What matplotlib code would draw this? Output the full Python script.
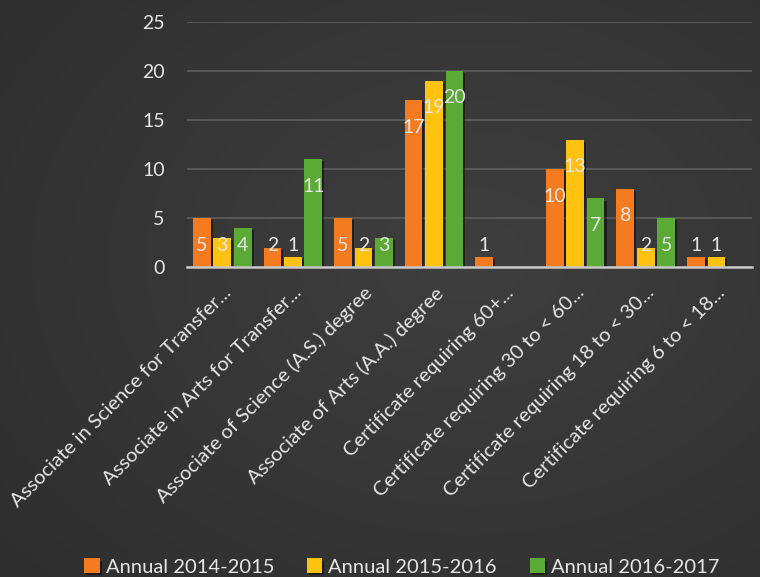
import numpy as np
import matplotlib
matplotlib.use("Agg")
import matplotlib.pyplot as plt
import matplotlib.patheffects as pe

categories = [
    "Associate in Science for Transfer...",
    "Associate in Arts for Transfer...",
    "Associate of Science (A.S.) degree",
    "Associate of Arts (A.A.) degree",
    "Certificate requiring 60+...",
    "Certificate requiring 30 to < 60...",
    "Certificate requiring 18 to < 30...",
    "Certificate requiring 6 to < 18...",
]
series_names = ["Annual 2014-2015", "Annual 2015-2016", "Annual 2016-2017"]
annual_2014 = [5, 2, 5, 17, 1, 10, 8, 1]
annual_2015 = [3, 1, 2, 19, np.nan, 13, 2, 1]
annual_2016 = [4, 11, 3, 20, np.nan, 7, 5, np.nan]
colors = ["#F47B20", "#FFC20E", "#5BAA36"]

plt.rcParams["font.family"] = ["Lato", "DejaVu Sans"]
text_col = "#E6E6E6"

fig = plt.figure(figsize=(7.6, 5.77), dpi=100)

# dark gradient background
bg = fig.add_axes([0, 0, 1, 1], zorder=-10)
yy, xx = np.mgrid[0:1:300j, 0:1:400j]
shade = 0.245 - 0.07 * np.sqrt(((xx - 0.62) / 0.9) ** 2 + ((yy - 0.45) / 0.9) ** 2)
shade = np.clip(shade, 0.13, 0.25)
bg.imshow(np.dstack([shade] * 3), extent=[0, 1, 0, 1], aspect="auto", origin="upper")
bg.axis("off")

ax = fig.add_axes([0.246, 0.537, 0.743, 0.425])
ax.set_facecolor("none")

x = np.arange(len(categories))
w = 0.25
step = 0.29
shadow = [pe.SimplePatchShadow(offset=(1.5, -1.5), shadow_rgbFace="black", alpha=0.45), pe.Normal()]
for i, (vals, name, c) in enumerate(zip([annual_2014, annual_2015, annual_2016], series_names, colors)):
    vals = np.array(vals, dtype=float)
    pos = x + (i - 1) * step
    bars = ax.bar(pos, vals, width=w, color=c, label=name, zorder=3)
    for b in bars:
        b.set_path_effects(shadow)
    for p, v in zip(pos, vals):
        if np.isnan(v):
            continue
        ax.text(p, max(v - 2.75, 2.25), f"{int(v)}", ha="center", va="center",
                color=text_col, fontsize=14, zorder=4)

ax.set_ylim(0, 25)
ax.set_xlim(-0.5, len(categories) - 0.5)
ax.set_yticks([0, 5, 10, 15, 20, 25])
ax.grid(axis="y", color="#5E5E5E", linewidth=1.2, zorder=0)
ax.set_axisbelow(True)
for s in ["top", "right", "left"]:
    ax.spines[s].set_visible(False)
ax.spines["bottom"].set_color("#C8C8C8")
ax.spines["bottom"].set_linewidth(1.8)
ax.spines["bottom"].set_zorder(5)

ax.tick_params(axis="y", length=0, pad=16, labelsize=14, labelcolor=text_col)
ax.tick_params(axis="x", length=0, pad=12, labelsize=14.5, labelcolor=text_col)
ax.set_xticks(x)
ax.set_xticklabels(categories, rotation=45, ha="right", va="top", rotation_mode="anchor")

fig.legend(loc="center", bbox_to_anchor=(0.529, 0.017), ncol=3, frameon=False,
           fontsize=14.5, labelcolor=text_col, handlelength=0.75, handleheight=0.75,
           handletextpad=0.3, columnspacing=1.65)

fig.savefig("out.png", dpi=100)
